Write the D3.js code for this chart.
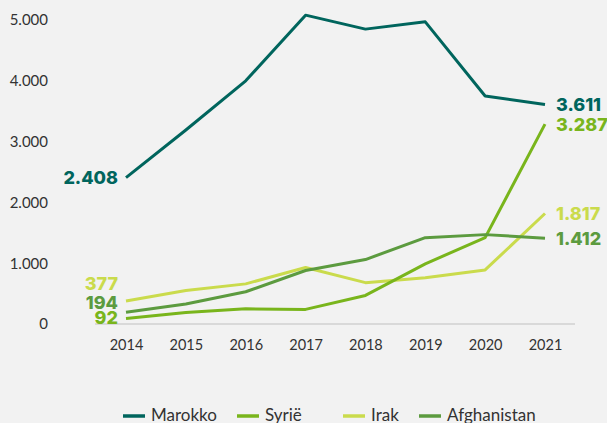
<!DOCTYPE html>
<html>
<head>
<meta charset="utf-8">
<script src="https://cdn.jsdelivr.net/npm/d3@7"></script>
<style>
  html, body { margin: 0; padding: 0; background: #f2f2f2; }
  svg { display: block; font-family: Lato, "Open Sans", sans-serif; }
</style>
</head>
<body>
<svg id="chart" width="607" height="423"></svg>
<script>
    // data
    var years = [2014, 2015, 2016, 2017, 2018, 2019, 2020, 2021];
    var seriesNames = ['Marokko', 'Syrië', 'Irak', 'Afghanistan'];
    var marokko     = [2408, 3190, 4000, 5080, 4850, 4970, 3750, 3611];
    var syrie       = [92, 190, 250, 240, 470, 990, 1420, 3287];
    var irak        = [377, 550, 660, 930, 680, 760, 890, 1817];
    var afghanistan = [194, 330, 530, 880, 1060, 1420, 1470, 1412];
    var yTicks = [0, 1000, 2000, 3000, 4000, 5000];

    var colors = ['#00655d', '#79b51c', '#cadb4c', '#5c9b3f'];
    var values = [marokko, syrie, irak, afghanistan];

    // start labels need a nudge so they don't overlap
    var startDy = [0, -1, -18, -10];
    var legendX = [123, 237, 343, 419];

    var nl = d3.formatLocale({decimal: ',', thousands: '.', grouping: [3], currency: ['€', '']});
    var fmt = nl.format(',');

    var svg = d3.select('#chart');

    var x = d3.scalePoint().domain(years).range([126, 545]);
    var y = d3.scaleLinear().domain([0, 5000]).range([324, 20]);

    // baseline
    svg.append('line')
        .attr('x1', 95).attr('x2', 575)
        .attr('y1', y(0)).attr('y2', y(0))
        .attr('stroke', '#d0d0d0')
        .attr('stroke-width', 1.5);

    // y axis
    var yAxis = svg.append('g')
        .attr('transform', 'translate(48,0)')
        .call(d3.axisLeft(y).tickValues(yTicks).tickSize(0).tickPadding(0).tickFormat(fmt));
    yAxis.select('.domain').remove();
    yAxis.selectAll('text')
        .attr('fill', '#333')
        .style('font-size', '15px')
        .style('font-family', 'Lato, sans-serif');

    // x axis
    var xAxis = svg.append('g')
        .attr('transform', 'translate(0,' + y(0) + ')')
        .call(d3.axisBottom(x).tickSize(0).tickPadding(16).tickFormat(d3.format('d')));
    xAxis.select('.domain').remove();
    xAxis.selectAll('text')
        .attr('fill', '#333')
        .style('font-size', '14.5px')
        .style('font-family', 'Lato, sans-serif');

    var line = d3.line()
        .x(function(d, i) { return x(years[i]); })
        .y(function(d) { return y(d); });

    // draw back to front so Marokko sits on top
    var order = [2, 1, 3, 0];
    order.forEach(function(k) {
        svg.append('path')
            .datum(values[k])
            .attr('d', line)
            .attr('fill', 'none')
            .attr('stroke', colors[k])
            .attr('stroke-width', 3)
            .attr('stroke-linejoin', 'round');
    });

    // value labels at start and end
    values.forEach(function(v, k) {
        svg.append('text')
            .attr('x', x(years[0]) - 8)
            .attr('y', y(v[0]) + startDy[k])
            .attr('dy', '0.36em')
            .attr('text-anchor', 'end')
            .attr('fill', colors[k])
            .style('font-family', 'Inter, sans-serif')
            .style('font-size', '18px')
            .style('font-weight', 800)
            .text(fmt(v[0]));

        var last = v[v.length - 1];
        svg.append('text')
            .attr('x', x(years[years.length - 1]) + 11)
            .attr('y', y(last))
            .attr('dy', '0.36em')
            .attr('fill', colors[k])
            .style('font-family', 'Inter, sans-serif')
            .style('font-size', '18px')
            .style('font-weight', 800)
            .text(fmt(last));
    });

    // legend
    var legend = svg.append('g').attr('transform', 'translate(0,416)');
    seriesNames.forEach(function(name, k) {
        var g = legend.append('g').attr('transform', 'translate(' + legendX[k] + ',0)');
        g.append('line')
            .attr('x1', 0).attr('x2', 22)
            .attr('y1', 0).attr('y2', 0)
            .attr('stroke', colors[k])
            .attr('stroke-width', 3.5);
        g.append('text')
            .attr('x', 28)
            .attr('y', 5)
            .attr('fill', '#333')
            .style('font-size', '17px')
            .text(name);
    });
</script>
</body>
</html>
